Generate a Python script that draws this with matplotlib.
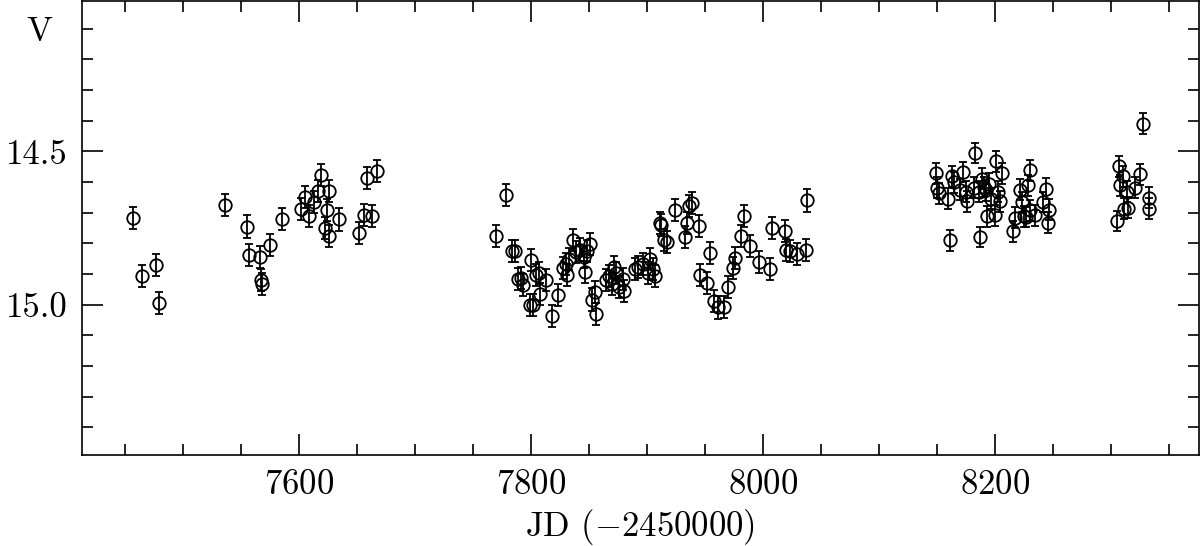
import matplotlib
matplotlib.use("Agg")
import matplotlib.pyplot as plt
from matplotlib.ticker import MultipleLocator, FixedLocator

# ---- data: JD - 2450000 and V magnitude ----
jd_2016 = [7457, 7465, 7476.6, 7479.5, 7536, 7555, 7557, 7566.6, 7567, 7568.3,
           7575, 7585, 7601.7, 7605, 7609, 7612.7, 7616, 7619, 7622.7, 7624,
           7625.6, 7626, 7634.5, 7652, 7656, 7659, 7662.7, 7667]
v_2016 = [14.717, 14.906, 14.869, 14.993, 14.674, 14.745, 14.837, 14.845, 14.918, 14.933,
          14.806, 14.719, 14.689, 14.649, 14.712, 14.665, 14.629, 14.578, 14.749, 14.690,
          14.775, 14.629, 14.722, 14.766, 14.706, 14.586, 14.711, 14.565]

jd_2017 = [7769.7, 7778.3, 7783.5, 7785.8, 7788.7, 7791, 7792.7, 7799, 7800, 7802,
           7804.5, 7806.5, 7808, 7813, 7818, 7823, 7828, 7830, 7831.5, 7833,
           7836, 7839, 7842.5, 7846, 7846.5, 7848, 7851, 7852.5, 7854.8, 7856,
           7865, 7867, 7870, 7872, 7873.5, 7876, 7879, 7880, 7890, 7892,
           7897, 7901, 7903, 7905, 7907, 7911, 7912, 7915, 7917, 7924.4,
           7933, 7934.5, 7936.5, 7939, 7945, 7945.5, 7952, 7954, 7958, 7961,
           7966.8, 7970, 7974, 7975.6, 7981, 7984, 7988.5, 7997, 8006, 8008,
           8019, 8019.5, 8023, 8029, 8037.5, 8037.8]
v_2017 = [14.777, 14.643, 14.826, 14.826, 14.915, 14.912, 14.936, 15.000, 14.853, 15.000,
          14.902, 14.898, 14.966, 14.918, 15.037, 14.969, 14.879, 14.866, 14.902, 14.850,
          14.790, 14.828, 14.820, 14.844, 14.893, 14.826, 14.803, 14.983, 14.958, 15.029,
          14.920, 14.907, 14.931, 14.877, 14.898, 14.942, 14.915, 14.955, 14.882, 14.877,
          14.866, 14.898, 14.850, 14.882, 14.907, 14.733, 14.741, 14.788, 14.795, 14.690,
          14.779, 14.733, 14.679, 14.667, 14.744, 14.902, 14.929, 14.831, 14.988, 15.009,
          15.007, 14.942, 14.879, 14.848, 14.777, 14.711, 14.809, 14.860, 14.882, 14.750,
          14.760, 14.822, 14.826, 14.835, 14.822, 14.660]

jd_2018 = [8149.6, 8150, 8151.5, 8159.4, 8161, 8163, 8164.6, 8169.7, 8172.3, 8175.5,
           8176, 8181.7, 8183, 8186, 8187.6, 8189, 8190.4, 8192.7, 8193, 8194.6,
           8196.7, 8200.4, 8200.8, 8202.4, 8204.7, 8206, 8215.8, 8217.8, 8221.5, 8223.5,
           8225, 8227, 8229, 8230, 8230.6, 8235, 8241.7, 8244.5, 8245.7, 8246.5,
           8305, 8307, 8307.8, 8310.7, 8311, 8314, 8314.7, 8321.3, 8325, 8328,
           8332.8, 8333]
v_2018 = [14.571, 14.618, 14.636, 14.654, 14.790, 14.581, 14.600, 14.625, 14.567, 14.632,
          14.662, 14.618, 14.505, 14.632, 14.779, 14.589, 14.616, 14.627, 14.712, 14.605,
          14.654, 14.708, 14.532, 14.632, 14.662, 14.571, 14.760, 14.716, 14.625, 14.665,
          14.712, 14.714, 14.611, 14.692, 14.562, 14.708, 14.665, 14.622, 14.733, 14.690,
          14.727, 14.549, 14.611, 14.581, 14.687, 14.632, 14.683, 14.618, 14.575, 14.410,
          14.651, 14.687]

err_2016 = [0.036] * len(jd_2016)
err_2017 = [0.036] * len(jd_2017)
err_2018 = [0.034] * len(jd_2018)

x_major = [7600, 7800, 8000, 8200]
y_major = [14.5, 15.0]
y_ticklabels = ["14.5", "15.0"]
x_label = r"JD ($-$2450000)"
y_label = "V"

plt.rcParams["font.family"] = ["cmr10", "DejaVu Serif"]
plt.rcParams["mathtext.fontset"] = "cm"
plt.rcParams["axes.formatter.use_mathtext"] = True

fig = plt.figure(figsize=(12, 5.46), dpi=100)
ax = fig.add_axes([0.0683, 0.1667, 0.9308, 0.8323])

for jd, v, e in [(jd_2016, v_2016, err_2016), (jd_2017, v_2017, err_2017), (jd_2018, v_2018, err_2018)]:
    ax.errorbar(jd, v, yerr=e, fmt="o", ms=9, mfc="none", mec="black", mew=1.3,
                ecolor="black", elinewidth=1.3, capsize=3.2, capthick=1.3, color="black")

ax.set_xlim(7412.8, 8376)
ax.set_ylim(15.49, 14.008)

ax.xaxis.set_major_locator(FixedLocator(x_major))
ax.xaxis.set_minor_locator(MultipleLocator(50))
ax.yaxis.set_major_locator(FixedLocator(y_major))
ax.set_yticklabels(y_ticklabels)
ax.yaxis.set_minor_locator(MultipleLocator(0.1))

ax.tick_params(which="both", direction="in", top=True, right=True, width=1.2,
               labelsize=25, colors="black")
ax.tick_params(which="major", length=15, pad=10)
ax.tick_params(which="minor", length=7.7)
for s in ax.spines.values():
    s.set_linewidth(1.2)

ax.set_xlabel(x_label, fontsize=25, labelpad=5)
fig.text(0.0325, 0.941, y_label, fontsize=25, ha="center", va="center")

fig.savefig("out.png", dpi=100)
